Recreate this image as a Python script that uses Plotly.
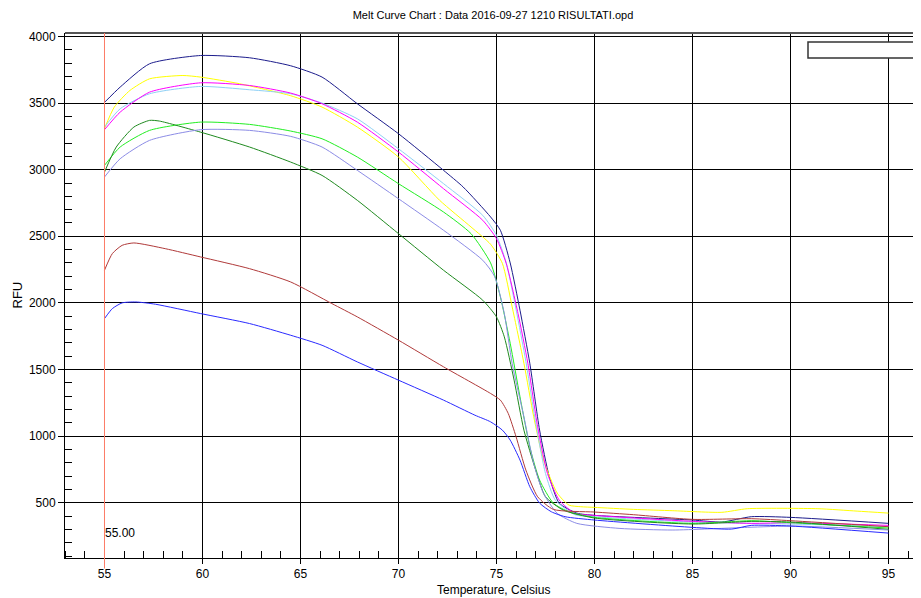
import plotly.graph_objects as go

# ---- data ----
navy_t = [55, 55.8, 57.3, 59.9, 62.4, 64.5, 66.1, 67.9, 70, 72.3, 73.3, 74.7, 75.2, 75.7, 76.2, 76.7, 77.2, 77.7, 78.2, 79.1, 80, 85, 86.5, 88, 90, 95]
navy_v = [3505, 3620, 3795, 3857, 3840, 3780, 3695, 3495, 3270, 2995, 2870, 2645, 2545, 2300, 1945, 1547, 1045, 693, 497, 422, 405, 370, 355, 395, 390, 345]

yellow_t = [55, 55.5, 56.3, 57.3, 59, 59.9, 61.9, 64.5, 66.1, 67.9, 70, 72.1, 73.7, 74.7, 75.3, 75.8, 76.4, 76.9, 77.4, 78.1, 78.7, 79.3, 80, 82, 84, 86.5, 87.8, 91.4, 93.4, 95]
yellow_v = [3308, 3470, 3595, 3682, 3707, 3695, 3645, 3555, 3470, 3320, 3095, 2770, 2570, 2440, 2297, 1970, 1547, 1145, 820, 572, 482, 470, 465, 450, 440, 428, 455, 455, 437, 422]

magenta_t = [55, 55.8, 57.3, 59.9, 62.4, 64.5, 66.1, 67.9, 70, 72.3, 74.3, 75, 75.5, 76.1, 76.6, 77.1, 77.6, 78.2, 79, 80, 85, 88, 90, 95]
magenta_v = [3300, 3432, 3582, 3652, 3632, 3575, 3495, 3357, 3132, 2857, 2620, 2482, 2295, 1920, 1547, 1070, 720, 520, 420, 405, 360, 345, 350, 330]

sky_t = [55, 55.8, 57.3, 59.9, 62.4, 64.5, 66.1, 67.9, 70, 72.3, 74.3, 75, 75.5, 76, 76.5, 77, 77.5, 78, 79, 80, 85, 88, 90, 95]
sky_v = [3320, 3457, 3570, 3625, 3600, 3570, 3500, 3382, 3157, 2895, 2657, 2507, 2300, 1950, 1560, 1100, 720, 520, 410, 395, 355, 345, 340, 320]

green_t = [55, 55.8, 57.3, 59.9, 62.4, 64.5, 66.1, 67.9, 70, 72.3, 73.7, 74.7, 75.2, 75.7, 76.2, 76.7, 77.2, 77.9, 78.7, 80, 85, 88, 90, 95]
green_v = [3032, 3170, 3295, 3357, 3340, 3290, 3232, 3095, 2895, 2682, 2520, 2300, 2045, 1697, 1295, 920, 670, 497, 432, 390, 345, 365, 350, 310]

dkgreen_t = [55, 55.6, 56.5, 57.3, 57.8, 59.9, 62.4, 64.5, 66.1, 67.9, 70, 72.3, 74.3, 75, 75.4, 75.9, 76.4, 77, 77.5, 78.4, 80, 85, 88, 90, 95]
dkgreen_v = [2982, 3170, 3320, 3370, 3365, 3282, 3170, 3057, 2957, 2770, 2520, 2245, 2020, 1895, 1745, 1420, 1045, 745, 545, 445, 385, 340, 360, 355, 300]

lavender_t = [55, 55.8, 57.3, 59.9, 62.4, 64.5, 66.1, 67.9, 70, 72.3, 74.3, 74.9, 75.4, 75.8, 76.4, 76.9, 77.4, 78.1, 79.1, 81.3, 84, 87.8, 90.2, 95]
lavender_v = [2945, 3082, 3220, 3300, 3295, 3250, 3170, 2995, 2782, 2545, 2320, 2200, 1920, 1545, 1145, 795, 570, 420, 345, 307, 295, 315, 325, 295]

brown_t = [55, 55.4, 55.9, 56.5, 58.1, 59.9, 62.4, 64.5, 66.6, 67.9, 70, 72.3, 74.7, 75.2, 75.6, 76, 76.5, 77.1, 77.9, 80, 82, 85, 88, 90, 95]
brown_v = [2245, 2370, 2432, 2450, 2407, 2345, 2257, 2157, 1995, 1895, 1720, 1520, 1320, 1270, 1170, 995, 745, 545, 450, 430, 410, 375, 380, 365, 320]

blue_t = [55, 55.4, 55.9, 56.6, 57.6, 59.9, 62.4, 64.5, 66.1, 67.9, 70, 72.3, 73.9, 74.7, 75.3, 75.7, 76.2, 76.7, 77.2, 77.8, 78.5, 80, 85, 87, 88, 90, 95]
blue_v = [1882, 1957, 2000, 2007, 1990, 1920, 1845, 1757, 1682, 1557, 1420, 1270, 1157, 1107, 1045, 970, 820, 620, 497, 432, 395, 370, 315, 302, 330, 325, 272]

series = [
    (navy_t, navy_v, "#1c1c8c"),
    (yellow_t, yellow_v, "#ffff00"),
    (sky_t, sky_v, "#8fd0f5"),
    (magenta_t, magenta_v, "#ff00ff"),
    (green_t, green_v, "#22ee22"),
    (dkgreen_t, dkgreen_v, "#1f8a1f"),
    (lavender_t, lavender_v, "#8c8ce6"),
    (brown_t, brown_v, "#b03a3a"),
    (blue_t, blue_v, "#2a2aff"),
]

marker_temp = 55
x_ticks = [55, 60, 65, 70, 75, 80, 85, 90, 95]
y_ticks = [500, 1000, 1500, 2000, 2500, 3000, 3500, 4000]

FONT = "Arial, Liberation Sans, sans-serif"

# the page body has an 8px margin; the figure is sized to fit the window
W, H = 913, 590

fig = go.Figure()
for t, v, c in series:
    fig.add_trace(go.Scatter(x=t, y=v, mode="lines",
                             line=dict(color=c, width=1, shape="spline", smoothing=0.6),
                             showlegend=False, hoverinfo="skip"))

fig.update_layout(
    width=W, height=H,
    margin=dict(l=57, r=0, t=25, b=40),
    paper_bgcolor="white", plot_bgcolor="white",
    showlegend=False,
    font=dict(family=FONT, size=12, color="black"),
    title=dict(text="Melt Curve Chart : Data 2016-09-27 1210 RISULTATI.opd",
               x=0.5, xref="paper", xanchor="center", y=1 - 7 / H, yanchor="middle",
               font=dict(size=11, color="black", family=FONT)),
)

fig.update_xaxes(
    range=[52.985, 96.66], tickvals=x_ticks, ticktext=[str(v) for v in x_ticks],
    showgrid=True, gridcolor="black", gridwidth=1, zeroline=False,
    showline=True, linecolor="black", linewidth=1,
    ticks="outside", ticklen=5, tickcolor="black",
    minor=dict(dtick=1, ticks="inside", ticklen=7, tickcolor="black", showgrid=False),
    tickfont=dict(size=12), fixedrange=True,
)
fig.update_yaxes(
    range=[85, 4026], tickvals=y_ticks, ticktext=[str(v) for v in y_ticks],
    showgrid=True, gridcolor="black", gridwidth=1, zeroline=False,
    showline=True, linecolor="black", linewidth=1,
    ticks="outside", ticklen=6, tickcolor="black",
    minor=dict(dtick=100, ticks="inside", ticklen=7, tickcolor="black", showgrid=False),
    tickfont=dict(size=12), fixedrange=True,
)

# top frame line
fig.add_shape(type="line", xref="paper", yref="paper", x0=0, x1=1, y0=1, y1=1,
              line=dict(color="#555555", width=2))
# marker line at 55
fig.add_shape(type="line", xref="x", yref="paper", x0=marker_temp, x1=marker_temp, y0=-0.02, y1=1,
              line=dict(color="#ff7f6a", width=1))
# empty legend box
fig.add_shape(type="rect", xref="paper", yref="paper", x0=(808 - 65) / 856, x1=1.05,
              y0=(558 - 58) / 525, y1=(558 - 42) / 525,
              line=dict(color="#333333", width=1.5), fillcolor="white")

fig.add_annotation(x=marker_temp, y=272, xref="x", yref="y", text="%.2f" % marker_temp,
                   showarrow=False, xanchor="left", yanchor="middle", xshift=-1,
                   font=dict(size=12, color="black"))
fig.add_annotation(x=0.5, y=(558 - 590) / 525, xref="paper", yref="paper",
                   text="Temperature, Celsius", showarrow=False, xanchor="center", yanchor="middle",
                   font=dict(size=12, color="black"))
fig.add_annotation(x=(17 - 65) / 856, y=0.5, xref="paper", yref="paper",
                   text="RFU", showarrow=False, textangle=-90, xanchor="center", yanchor="middle",
                   font=dict(size=13, color="black"))

fig.write_html("out.html")
